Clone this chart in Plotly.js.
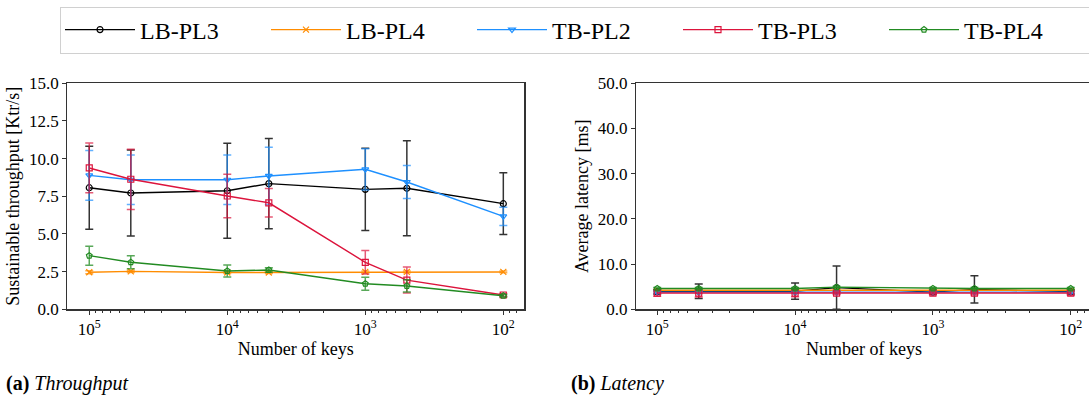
<!DOCTYPE html>
<html><head><meta charset="utf-8">
<script src="https://cdn.plot.ly/plotly-3.0.1.min.js"></script>
<style>html,body{margin:0;padding:0;overflow:hidden;background:#fff;width:1089px;height:398px}#chart{width:1100px;height:398px}</style>
</head><body><div id="chart"></div>
<script>
// ---- data ----
const keys = [100000, 50000, 10000, 5000, 1000, 500, 100];
const seriesNames = ['LB-PL3', 'LB-PL4', 'TB-PL2', 'TB-PL3', 'TB-PL4'];
const tickValues = [100000, 10000, 1000, 100];
const tickLabels = ['10<sup>5</sup>', '10<sup>4</sup>', '10<sup>3</sup>', '10<sup>2</sup>'];

// throughput [Ktr/s]
const thrLBPL3 = [8.07, 7.72, 7.87, 8.34, 7.96, 8.03, 7.01];
const thrLBPL3Err = [2.75, 2.85, 3.15, 3.0, 2.73, 3.15, 2.05];
const thrLBPL4 = [2.46, 2.52, 2.44, 2.44, 2.48, 2.48, 2.48];
const thrLBPL4Err = [0.1, 0.08, 0.06, 0.06, 0.06, 0.06, 0.06];
const thrTBPL2 = [8.89, 8.6, 8.6, 8.85, 9.29, 8.45, 6.17];
const thrTBPL2Err = [1.65, 1.64, 1.64, 1.9, 1.37, 1.1, 0.6];
const thrTBPL3 = [9.38, 8.63, 7.52, 7.07, 3.12, 1.94, 0.95];
const thrTBPL3Err = [1.65, 2.0, 1.44, 0.95, 0.78, 0.86, 0.1];
const thrTBPL4 = [3.56, 3.12, 2.54, 2.61, 1.7, 1.55, 0.9];
const thrTBPL4Err = [0.63, 0.43, 0.4, 0.15, 0.43, 0.41, 0.08];

// latency [ms]
const latLBPL3 = [3.9, 4.0, 4.0, 4.8, 3.8, 4.4, 3.9];
const latLBPL3Err = [0.5, 1.6, 1.8, 4.8, 0.4, 3.0, 0.5];
const latLBPL4 = [4.2, 4.2, 4.2, 4.2, 4.2, 4.2, 4.2];
const latLBPL4Err = [0.2, 0.2, 0.2, 0.2, 0.2, 0.2, 0.2];
const latTBPL2 = [3.8, 3.8, 3.8, 3.8, 3.8, 3.8, 3.8];
const latTBPL2Err = [0.3, 0.3, 0.3, 0.3, 0.3, 0.3, 0.3];
const latTBPL3 = [3.6, 3.6, 3.6, 3.6, 3.6, 3.6, 3.6];
const latTBPL3Err = [0.7, 0.9, 0.8, 0.3, 0.4, 0.4, 0.5];
const latTBPL4 = [4.6, 4.6, 4.6, 4.9, 4.6, 4.6, 4.6];
const latTBPL4Err = [0.2, 0.2, 0.2, 0.2, 0.2, 0.2, 0.2];

// ---- styles ----
const colors = ['#000000', '#ff8c00', '#1e90ff', '#dc143c', '#228b22'];
const errColors = ['rgba(0,0,0,0.8)', 'rgba(255,140,0,0.7)', 'rgba(30,144,255,0.7)', 'rgba(220,20,60,0.7)', 'rgba(34,139,34,0.75)'];
const symbols = ['circle-open', 'x-thin-open', 'triangle-down-open', 'square-open', 'pentagon-open'];

const thr = [thrLBPL3, thrLBPL4, thrTBPL2, thrTBPL3, thrTBPL4];
const thrErr = [thrLBPL3Err, thrLBPL4Err, thrTBPL2Err, thrTBPL3Err, thrTBPL4Err];
const lat = [latLBPL3, latLBPL4, latTBPL2, latTBPL3, latTBPL4];
const latErr = [latLBPL3Err, latLBPL4Err, latTBPL2Err, latTBPL3Err, latTBPL4Err];

const traces = [];
function mk(i, ys, errs, xa, ya, show) {
  return {
    type: 'scatter', mode: 'lines+markers', x: keys, y: ys,
    name: seriesNames[i], legendgroup: seriesNames[i], showlegend: show,
    xaxis: xa, yaxis: ya,
    line: {color: colors[i], width: 1.4},
    marker: {symbol: symbols[i], size: 6, color: colors[i], line: {color: colors[i], width: 1.2}},
    error_y: {type: 'data', array: errs, visible: true, color: errColors[i], thickness: 1.5, width: 4},
    cliponaxis: true
  };
}
for (let i = 0; i < 5; i++) traces.push(mk(i, thr[i], thrErr[i], 'x', 'y', true));
for (let i = 0; i < 5; i++) traces.push(mk(i, lat[i], latErr[i], 'x2', 'y2', false));

const W = 1100, H = 398;
const FAM = 'Liberation Serif';
function f(size) { return {family: FAM, size: size, color: '#000'}; }
function xax(d0, d1, r0, r1, anchor) {
  return {
    type: 'log', domain: [d0 / W, d1 / W], range: [r0, r1], anchor: anchor,
    tickmode: 'array', tickvals: tickValues, ticktext: tickLabels,
    ticks: 'outside', ticklen: 4, tickwidth: 1, tickcolor: '#333',
    minor: {ticks: 'outside', ticklen: 2.5, tickcolor: '#333', dtick: 'D1', showgrid: false},
    showline: true, linecolor: '#333', linewidth: 1.2, mirror: true,
    showgrid: false, zeroline: false,
    tickfont: f(17),
    title: {text: 'Number of keys', font: f(18), standoff: 3}
  };
}
function yax(d0, d1, rmax, dt, title, anchor) {
  return {
    domain: [1 - d1 / H, 1 - d0 / H], range: [0, rmax], dtick: dt, tick0: 0, anchor: anchor,
    tickformat: '.1f',
    ticks: 'outside', ticklen: 4, tickwidth: 1, tickcolor: '#333',
    showline: true, linecolor: '#333', linewidth: 1.2, mirror: true,
    showgrid: false, zeroline: false,
    tickfont: f(17),
    title: {text: title, font: f(18), standoff: 4}
  };
}

const layout = {
  width: W, height: H,
  margin: {l: 0, r: 0, t: 0, b: 0},
  paper_bgcolor: '#fff', plot_bgcolor: '#fff',
  font: f(17),
  showlegend: true,
  legend: {
    orientation: 'h', x: 60 / W, y: 1 - 6.5 / H, xanchor: 'left', yanchor: 'top',
    bordercolor: '#d0d0d0', borderwidth: 1, bgcolor: '#fff',
    font: f(24),
    entrywidth: 121, entrywidthmode: 'pixels', itemwidth: 70
  },
  xaxis: xax(67.3, 524.3, 5.159, 1.848, 'y'),
  yaxis: yax(83.3, 309.3, 15, 2.5, 'Sustainable throughput [Ktr/s]', 'x'),
  xaxis2: xax(636, 1092, 5.154, 1.846, 'y2'),
  yaxis2: yax(83.3, 309.3, 50, 10, 'Average latency [ms]', 'x2'),
  annotations: [
    {xref: 'paper', yref: 'paper', x: 4 / W, y: 1 - 383 / H, xanchor: 'left', yanchor: 'middle', showarrow: false,
     text: '<b>(a)</b> <i>Throughput</i>', font: f(20)},
    {xref: 'paper', yref: 'paper', x: 569 / W, y: 1 - 383 / H, xanchor: 'left', yanchor: 'middle', showarrow: false,
     text: '<b>(b)</b> <i>Latency</i>', font: f(20)}
  ]
};
Plotly.newPlot('chart', traces, layout, {displayModeBar: false, staticPlot: true});
</script></body></html>
